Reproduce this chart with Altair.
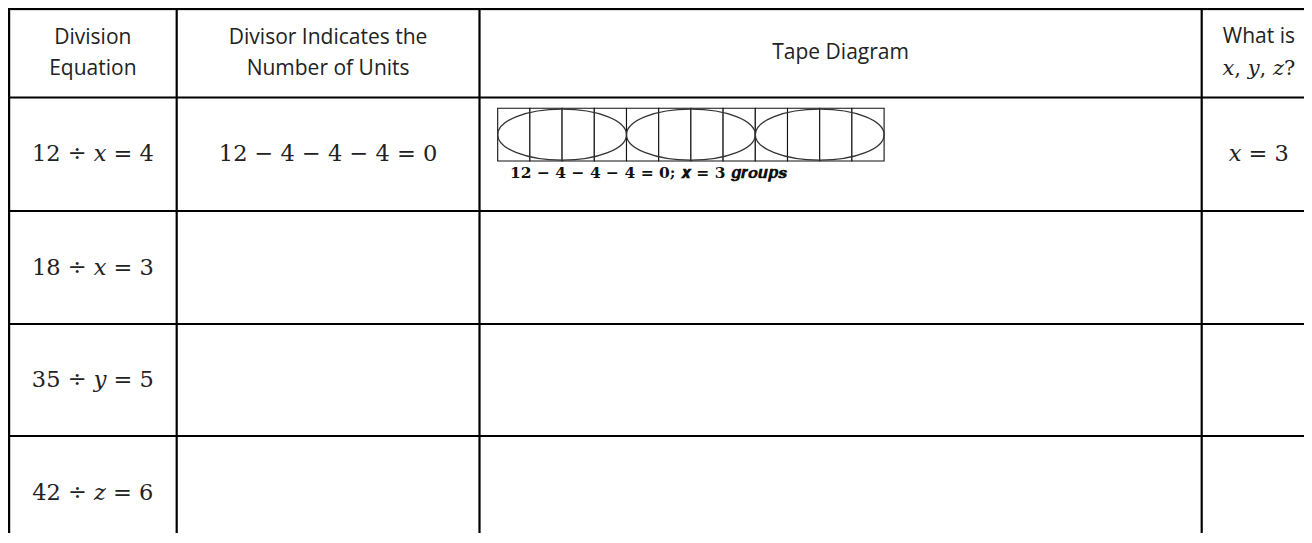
import altair as alt
import pandas as pd

# ---------------- data ----------------
header_texts = ["Division\nEquation", "Divisor Indicates the\nNumber of Units", "Tape Diagram", "What is"]
header_var_line = "𝑥, 𝑦, 𝑧?"
equations = ["12 ÷ 𝑥 = 4", "18 ÷ 𝑥 = 3", "35 ÷ 𝑦 = 5", "42 ÷ 𝑧 = 6"]
subtractions = ["12 − 4 − 4 − 4 = 0", "", "", ""]
answers = ["𝑥 = 3", "", "", ""]
tape_units = 12
tape_groups = 3
tape_label = "12 − 4 − 4 − 4 = 0; 𝒙 = 3 𝒈𝒓𝒐𝒖𝒑𝒔"

# ---------------- layout (page pixel coordinates) ----------------
col_edges = [9, 176.7, 479.5, 1201.7, 1316]
row_edges = [9, 97.5, 211, 324, 436, 549]
header_line_y = [38, 38, 53, 37]
right_end = 1304
bottom_end = 533
tape_x0, tape_cell, tape_y0, tape_y1 = 497.7, 32.2, 108.3, 161.0
label_x, label_y = 510, 178

W, H = 1294, 523
xs = alt.Scale(domain=[10, 10 + W])
ys = alt.Scale(domain=[10, 10 + H], reverse=True)

def X(f="x"):
    return alt.X(f"{f}:Q", scale=xs, axis=None)

def Y(f="y"):
    return alt.Y(f"{f}:Q", scale=ys, axis=None)

# grid lines
vlines = pd.DataFrame({"x": col_edges[:4], "y": [8] * 4, "y2": [bottom_end] * 4})
hlines = pd.DataFrame({"y": row_edges[:5], "x": [8] * 5, "x2": [right_end] * 5})

grid_v = alt.Chart(vlines).mark_rule(color="#000", strokeWidth=2.2).encode(
    x=X(), y=Y(), y2="y2:Q")
grid_h = alt.Chart(hlines).mark_rule(color="#000", strokeWidth=2.2).encode(
    y=Y(), x=X(), x2="x2:Q")

# header text
cx = [(col_edges[i] + col_edges[i + 1]) / 2 for i in range(4)]
cy = [(row_edges[i] + row_edges[i + 1]) / 2 for i in range(5)]
hdr = pd.DataFrame({"x": cx, "y": header_line_y, "t": header_texts})
header = alt.Chart(hdr).mark_text(
    font="Open Sans", fontSize=21, color="#222", lineBreak="\n", lineHeight=31,
    align="center", baseline="middle").encode(x=X(), y=Y(), text="t:N")

hvar = alt.Chart(pd.DataFrame({"x": [cx[3]], "y": [69], "t": [header_var_line]})).mark_text(
    font="DejaVu Serif", fontSize=21, color="#222", align="center", baseline="middle"
).encode(x=X(), y=Y(), text="t:N")

# body text
rows = []
for r in range(4):
    for c, col in enumerate([equations, subtractions, answers]):
        txt = col[r]
        if txt:
            rows.append({"x": cx[[0, 1, 3][c]], "y": cy[r + 1], "t": txt})
body = alt.Chart(pd.DataFrame(rows)).mark_text(
    font="DejaVu Serif", fontSize=22.5, color="#222", align="center", baseline="middle"
).encode(x=X(), y=Y(), text="t:N")

# tape diagram cells
cells = pd.DataFrame({"i": list(range(tape_units))})
cells["x"] = tape_x0 + cells["i"] * tape_cell
cells["x2"] = cells["x"] + tape_cell
cells["y"] = tape_y0
cells["y2"] = tape_y1
tape = alt.Chart(cells).mark_rect(fill="white", stroke="#111", strokeWidth=1.1).encode(
    x=X(), x2="x2:Q", y=Y(), y2="y2:Q")

per = tape_units // tape_groups
grp = pd.DataFrame({"g": list(range(tape_groups))})
grp["x"] = tape_x0 + (grp["g"] * per + per / 2) * tape_cell
grp["y"] = (tape_y0 + tape_y1) / 2
ell_w = per * tape_cell
ry = 51.0 / ell_w
k = 0.5523
ellipse_path = (
    f"M-1,0 C-1,{-ry*k:.4f} {-k:.4f},{-ry:.4f} 0,{-ry:.4f} "
    f"C{k:.4f},{-ry:.4f} 1,{-ry*k:.4f} 1,0 "
    f"C1,{ry*k:.4f} {k:.4f},{ry:.4f} 0,{ry:.4f} "
    f"C{-k:.4f},{ry:.4f} -1,{ry*k:.4f} -1,0 Z"
)
ellipses = alt.Chart(grp).mark_point(
    shape=ellipse_path, size=ell_w ** 2, filled=False, color="#333", strokeWidth=1.3, opacity=1
).encode(x=X(), y=Y())

label = alt.Chart(pd.DataFrame({"x": [label_x], "y": [label_y], "t": [tape_label]})).mark_text(
    font="DejaVu Serif", fontSize=15.5, fontWeight="bold", color="#111", align="left", baseline="alphabetic"
).encode(x=X(), y=Y(), text="t:N")

chart = alt.layer(grid_v, grid_h, header, hvar, body, tape, ellipses, label).properties(
    width=W, height=H, padding={"left": 2, "top": 2, "right": 0, "bottom": 0},
    autosize=alt.AutoSizeParams(type="none")
).configure_view(stroke=None).configure(background="white")

chart.save("out.html", embed_options={"renderer": "svg", "actions": False})
